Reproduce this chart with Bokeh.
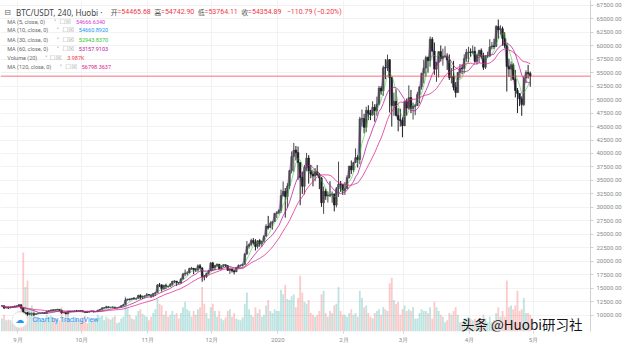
import pandas as pd
from bokeh.plotting import figure
from bokeh.models import ColumnDataSource, Range1d, FixedTicker, NumeralTickFormatter, Span, Label
from bokeh.embed import file_html
from bokeh.resources import INLINE

# ---------------- data (daily candles) ----------------
first_day = "2020-08-24"
first_open = 11650.0

close = [
    11760, 11330, 11460, 11320, 11530, 11480, 11700, 11650,
    11920, 11390, 10170, 10470, 10170, 10250, 10370, 10130, 10230, 10340, 10390, 10440, 10330, 10680, 10790,
    10950, 10940, 10930, 11080, 10920, 10420, 10530, 10240, 10740, 10690, 10730, 10780, 10700, 10840, 10780,
    10620, 10570, 10550, 10670, 10790, 10600, 10670, 10920, 11060, 11300, 11380, 11540, 11430, 11430, 11500,
    11320, 11360, 11500, 11750, 11920, 12820, 12970, 12930, 13120, 13030, 13070, 13650, 13280, 13460, 13560, 13800,
    13760, 13550, 14030, 14150, 15590, 15580, 14840, 15480, 15330, 15300, 15700, 16280, 16320, 16070, 15960,
    16720, 17650, 17790, 17820, 18660, 18700, 18420, 18370, 19160, 18740, 17150, 17140, 17720, 18180, 19700,
    18770, 19220, 19430, 18650, 19150, 19360, 19170, 18320, 18550, 18250, 18030, 18800, 19170, 19270, 19430,
    21340, 22800, 23130, 23860, 23480, 22740, 23820, 23240, 23730, 24690, 26490, 26280, 27040, 27360, 28880, 28990,
    29410, 32190, 33000, 31990, 33990, 36820, 39450, 40630, 40180, 38340, 35540, 33920, 37390, 39160, 36820,
    36180, 35800, 36630, 36020, 35470, 30850, 33000, 32100, 32290, 32260, 32500, 30430, 33470, 34320, 34300, 33110,
    33520, 35520, 37680, 36980, 38310, 39260, 38900, 46400, 46500, 44850, 48010, 47430, 47180, 48590,
    47910, 49150, 52140, 51590, 55930, 55850, 57410, 54090, 48890, 49680, 47070, 46280, 46110, 45140,
    49590, 48420, 50370, 48360, 48750, 48880, 50970, 52380, 54880, 55850, 57800, 57230, 61190, 59000, 55650,
    56900, 58910, 57650, 58030, 58100, 57350, 54080, 54340, 52300, 51300, 55030, 55840, 55780, 57620, 58780, 58800,
    58720, 58970, 57070, 58200, 59130, 58020, 56000, 58090, 58090, 59770, 59970, 59860, 63580, 62960, 63150,
    61340, 60000, 56150, 55660, 56470, 53800, 51700, 51150, 50110, 49070, 54030, 55040, 54860, 54354.89,
]
high = [
    11800, 11780, 11540, 11590, 11550, 11580, 11720, 11770,
    12070, 11950, 11460, 10630, 10570, 10350, 10410, 10440, 10350, 10490, 10400, 10480, 10450, 10800, 10940,
    11000, 11030, 11040, 11180, 11080, 10990, 10580, 10540, 10780, 10760, 10790, 10800, 10960, 10860, 10850,
    10950, 10660, 10600, 10700, 10800, 10800, 10690, 10950, 11110, 11490, 11440, 11730, 11560, 11550, 11630,
    11540, 11400, 11530, 11800, 12030, 13220, 13020, 13030, 13160, 13350, 13250, 13800, 13860, 13640, 13660, 14100,
    13900, 13830, 14070, 14250, 15750, 15970, 15770, 15660, 15840, 15470, 15960, 16350, 16480, 16330, 16150,
    16880, 17850, 18470, 18140, 18800, 18950, 18680, 18760, 19410, 19480, 18910, 17450, 17850, 18350, 19860,
    19890, 19300, 19600, 19510, 19170, 19420, 19390, 19300, 18640, 18560, 18280, 18950, 19410, 19350, 19560,
    21540, 23770, 23280, 24170, 24300, 24100, 23850, 24100, 23780, 24790, 26870, 28420, 27410, 27400, 28990, 29300,
    29650, 33300, 34800, 33600, 34500, 36950, 40380, 41950, 41400, 41300, 38250, 36650, 37850, 40100, 39700,
    37900, 36850, 37300, 37850, 36400, 35600, 33850, 33450, 32950, 34850, 32950, 32550, 33780, 38500, 34900, 34300,
    34700, 35950, 37700, 38700, 38400, 40950, 39700, 46800, 48150, 47350, 48680, 48950, 48100, 49700,
    49150, 50550, 52550, 52500, 56300, 57500, 58350, 57500, 54200, 51300, 51900, 48400, 48300, 46700,
    49800, 50200, 52650, 51800, 49450, 49200, 51450, 52400, 54900, 57400, 58150, 58000, 61700, 61600, 60600,
    56950, 58950, 60050, 59450, 59900, 58600, 58400, 55850, 57200, 53250, 55100, 56600, 56550, 58400, 59400, 59800,
    59500, 60050, 59800, 58500, 59250, 59500, 58700, 58200, 58900, 61200, 60700, 61300, 63800, 64850, 63800,
    63550, 62500, 60400, 57600, 57100, 56750, 55500, 52150, 51200, 50600, 54350, 55450, 56450, 55200,
]
low = [
    11600, 11120, 11260, 11150, 11280, 11440, 11460, 11560,
    11570, 11160, 10000, 9960, 9880, 10000, 9880, 9850, 10100, 10210, 10200, 10310, 10230, 10300, 10640,
    10670, 10750, 10820, 10900, 10770, 10280, 10360, 10150, 10200, 10560, 10650, 10630, 10660, 10650, 10690,
    10540, 10380, 10500, 10540, 10640, 10530, 10570, 10540, 10840, 11060, 11260, 11220, 11300, 11280, 11280,
    11220, 11300, 11340, 11420, 11680, 11900, 12690, 12720, 12890, 12900, 12780, 13050, 12930, 12990, 13130, 13420,
    13640, 13200, 13300, 13530, 14090, 15210, 14350, 14720, 14810, 15090, 15270, 15460, 15950, 15430, 15800,
    15870, 16550, 17220, 17350, 17770, 18400, 17620, 18000, 18050, 18520, 16200, 16450, 16880, 17520, 18180,
    18180, 18330, 18920, 18580, 18510, 18860, 18900, 18200, 17650, 17910, 17570, 18020, 18720, 19010, 19050,
    19280, 21230, 22350, 22750, 23070, 22000, 22350, 22700, 22720, 23440, 24510, 25900, 26120, 25880, 27340, 28000,
    28700, 28950, 32000, 28100, 29900, 33400, 36300, 36600, 38700, 35100, 30400, 32500, 32400, 36700, 34400,
    35400, 33900, 34850, 35900, 33400, 30100, 28800, 31400, 30900, 31900, 30850, 29250, 30000, 31950, 32850, 32300,
    32300, 33400, 35350, 36200, 36600, 38200, 37400, 38000, 45000, 43750, 43950, 46200, 46200, 47000,
    45900, 47000, 48900, 50900, 50700, 53800, 55300, 47600, 45000, 47000, 46900, 44100, 45000, 43000,
    45100, 47000, 48100, 47500, 46300, 47100, 48850, 49300, 51850, 53000, 54300, 55000, 56100, 58900, 54600,
    53300, 54100, 57050, 56300, 57800, 55500, 53650, 53000, 51700, 50400, 51250, 53950, 54700, 54900, 57000, 56900,
    57950, 58500, 56900, 56500, 56800, 57600, 55500, 55700, 57700, 57900, 59300, 59400, 59800, 61300, 62050,
    60000, 59600, 51500, 54200, 53500, 53600, 50400, 47500, 48800, 47000, 48800, 53050, 53900, 52400,
]
volume = [
    14, 18, 12, 13, 12, 9, 10, 11,
    22, 30, 85, 48, 55, 25, 28, 24, 16, 15, 13, 11, 12, 18, 16, 17, 15, 14, 13, 12, 26, 14, 18, 20, 13, 10, 11, 14, 12, 13,
    15, 17, 9, 10, 12, 14, 12, 18, 16, 17, 12, 16, 14, 13, 15, 17, 9, 10, 14, 16, 38, 25, 18, 14, 13, 17, 22, 24, 19, 17, 16,
    12, 16, 20, 24, 35, 30, 28, 18, 22, 16, 18, 22, 18, 20, 14, 20, 26, 32, 24, 22, 16, 22, 18, 24, 26, 48, 30, 20, 14, 26,
    30, 22, 16, 22, 14, 12, 15, 22, 24, 16, 20, 14, 13, 12, 15, 30, 42, 24, 18, 16, 26, 20, 24, 16, 18, 28, 34, 22, 20, 24, 22,
    22, 45, 40, 50, 35, 34, 38, 40, 26, 36, 60, 42, 32, 30, 34, 20, 18, 16, 18, 22, 40, 44, 20, 16, 22, 20, 28, 30, 48, 22, 18,
    18, 16, 20, 24, 18, 20, 16, 44, 36, 26, 28, 20, 16, 14, 20, 22, 24, 18, 26, 24, 22, 52, 58, 34, 30, 32, 18, 24,
    28, 22, 24, 22, 26, 14, 14, 20, 24, 22, 22, 20, 26, 14, 32, 26, 22, 18, 16, 10, 12, 20, 18, 22, 26, 18, 10, 10, 14, 14, 16,
    14, 12, 14, 10, 12, 12, 18, 14, 10, 16, 10, 12, 20, 26, 16, 22, 16, 55, 26, 28, 24, 28, 44, 22, 24, 36, 20, 20, 18,
]

legend_names = ["MA (5, close, 0)", "MA (10, close, 0)", "MA (30, close, 0)",
                "MA (60, close, 0)", "Volume (20)", "MA (120, close, 0)"]
legend_values = ["54666.6340", "54660.8920", "52943.8370", "53157.9103", "3.987K", "56798.3637"]
ma_periods = [5, 10, 30, 60, 120]          # in 4-hour bars

header_symbol = "BTC/USDT, 240, Huobi"
ohlc_keys = ["开", "高", "低", "收"]
ohlc_vals = ["=54465.68", "=54742.90", "=53764.11", "=54354.89"]
change_text = "\u2212110.79 (\u22120.20%)"
last_price = 54354.89
watermark = "头条 @Huobi研习社"

month_dates = ["2020-09-01", "2020-10-01", "2020-11-01", "2020-12-01", "2021-01-01",
               "2021-02-01", "2021-03-01", "2021-04-01", "2021-05-01"]
month_labels = ["9月", "10月", "11月", "12月", "2020", "2月", "3月", "4月", "5月"]
price_ticks = [10000, 12500, 15000, 17500, 20000, 22500, 25000, 27500, 30000, 32500, 35000,
               37500, 40000, 42500, 45000, 47500, 50000, 52500, 55000, 57500, 60000, 62500,
               65000, 67500]

# ---------------- styles ----------------
MA_COLORS = ["#d63ad6", "#2196f3", "#2fc52f", "#b5179e", "#f23645", "#e0218a"]
UP_C, DOWN_C = "#4a4a4a", "#1e1e1e"
VOL_UP, VOL_DOWN = "#26a69a", "#ef5350"
RED = "#f23645"
GRID = "#f2f2f2"

origin = pd.Timestamp("2020-09-01")
dates = pd.date_range(first_day, periods=len(close), freq="D")
xs = [(d - origin).days + 0.5 for d in dates]
opens = [first_open] + close[:-1]
hi = [max(h, o, c) for h, o, c in zip(high, opens, close)]
lo = [min(l, o, c) for l, o, c in zip(low, opens, close)]
is_up = [c >= o for o, c in zip(opens, close)]

src = ColumnDataSource(dict(
    x=xs, open=opens, close=close, high=hi, low=lo, volume=volume,
    top=[max(o, c) for o, c in zip(opens, close)],
    bottom=[min(o, c) for o, c in zip(opens, close)],
    color=[UP_C if u else DOWN_C for u in is_up],
    vcolor=[VOL_UP if u else VOL_DOWN for u in is_up],
))

# reference-pixel -> data helpers (for annotations only)
def X(px):
    return (px - 18) / 2.2025

def Y(py):
    return 67500 - (py - 5) * 2500 / 14

p = figure(width=624, height=345, output_backend="svg", toolbar_location=None,
           x_range=Range1d(X(0), X(610)), y_range=Range1d(Y(344), Y(0)),
           y_axis_location="right", min_border_left=0, min_border_top=0,
           min_border_right=0, min_border_bottom=0, outline_line_color=None,
           background_fill_color="white", border_fill_color="white")

p.extra_y_ranges = {"vol": Range1d(0, max(volume) * 344 / 82)}

month_x = [(pd.Timestamp(d) - origin).days for d in month_dates]

# grid
p.xgrid.ticker = FixedTicker(ticks=month_x)
p.ygrid.ticker = FixedTicker(ticks=price_ticks)
p.xgrid.grid_line_color = GRID
p.ygrid.grid_line_color = GRID

# axes
p.xaxis.ticker = FixedTicker(ticks=month_x)
p.xaxis.major_label_overrides = {m: l for m, l in zip(month_x, month_labels)}
p.xaxis.axis_line_color = None
p.xaxis.major_tick_line_color = "#d0d0d0"
p.xaxis.major_tick_out = 2
p.xaxis.major_tick_in = 0
p.xaxis.minor_tick_line_color = None
p.xaxis.major_label_text_font = "Roboto"
p.xaxis.major_label_text_font_size = "6px"
p.xaxis.major_label_text_color = "#8a8a8a"
p.xaxis.major_label_standoff = 2

p.yaxis.ticker = FixedTicker(ticks=price_ticks)
p.yaxis.formatter = NumeralTickFormatter(format="0.00")
p.yaxis.axis_line_color = "#d0d0d0"
p.yaxis.major_tick_line_color = "#d0d0d0"
p.yaxis.major_tick_out = 3
p.yaxis.major_tick_in = 0
p.yaxis.minor_tick_line_color = None
p.yaxis.major_label_text_font = "Roboto"
p.yaxis.major_label_text_font_size = "6px"
p.yaxis.major_label_text_color = "#8a8a8a"
p.yaxis.major_label_standoff = 3

# volume
p.vbar(x="x", top="volume", bottom=0, width=0.85, source=src, y_range_name="vol",
       fill_color="vcolor", fill_alpha=0.3, line_color=None)

# moving averages (4h periods -> daily windows)
s = pd.Series(close, dtype=float)
ma_series = [s.rolling(max(1, round(n / 6)), min_periods=1).mean().tolist() for n in ma_periods]
line_colors = [MA_COLORS[0], MA_COLORS[1], MA_COLORS[2], MA_COLORS[3], MA_COLORS[5]]

for ys, c in zip(ma_series[:2], line_colors[:2]):
    p.line(xs, ys, line_color=c, line_width=1, line_alpha=0.6)

# candles
p.segment(x0="x", y0="high", x1="x", y1="low", source=src, line_color="color", line_width=1)
p.vbar(x="x", top="top", bottom="bottom", width=0.8, source=src,
       fill_color="color", line_color="color", line_width=0.5)

for ys, c, a in zip(ma_series[2:], line_colors[2:], [0.55, 0.75, 0.75]):
    p.line(xs, ys, line_color=c, line_width=1, line_alpha=a)

# last price line + tag
p.add_layout(Span(location=last_price, dimension="width", line_color=RED, line_width=1, line_alpha=0.7))
p.add_layout(Label(x=X(611), y=last_price, text=f"{last_price:.2f}", text_color="white",
                   text_font="Roboto", text_font_size="6.5px", text_baseline="middle",
                   background_fill_color=RED, padding=2))

# header
def lab(px, py, text, color="#555555", size="6px", font="Roboto", baseline="middle", **kw):
    p.add_layout(Label(x=X(px), y=Y(py), text=text, text_color=color, text_font=font,
                       text_font_size=size, text_baseline=baseline, text_align="left", **kw))

lab(4, 12, "\u229f", color="#666666", size="8px", font="DejaVu Sans")
lab(16, 12, header_symbol + "  \u00b7", color="#444444", size="8px", font="Noto Sans")
for k, (key, val) in enumerate(zip(ohlc_keys, ohlc_vals)):
    lab(114 + 45 * k, 12, key, color="#555555", size="7px", font="Noto Sans CJK SC")
    lab(121 + 45 * k, 12, val, color=RED, size="7px", font="Roboto")
lab(296, 12, change_text, color=RED, size="7px", font="Roboto")

rows_y = [22, 31, 41, 50, 60, 69]
caret_x = [55, 58, 58, 58, 46, 61]
icon_x = [61, 64, 64, 64, 51, 67]
value_x = [78, 81, 81, 81, 69, 84]
for i, (name, val) in enumerate(zip(legend_names, legend_values)):
    lab(7, rows_y[i], name, color="#6a6a6a", size="5.5px")
    lab(caret_x[i], rows_y[i], "\u02c5", color="#9a9a9a", size="5.5px", font="DejaVu Sans")
    lab(icon_x[i], rows_y[i], "\u2610\u2612", color="#b0b0b0", size="6.5px", font="DejaVu Sans")
    lab(value_x[i], rows_y[i], val, color=MA_COLORS[i], size="5.5px")

# TradingView badge
p.add_layout(Label(x=X(20), y=Y(332), text="\u2601", text_color="#2196f3", text_font="DejaVu Sans",
                   text_font_size="9px", text_align="center", text_baseline="middle",
                   background_fill_color="white", border_line_color="#e6e6e6",
                   border_radius=8, padding=3))
lab(33, 332, "Chart by TradingView", color="#2196f3", size="7px")

# watermark
lab(476, 336, watermark, color="#151515", size="13.5px", font="Noto Sans CJK SC",
    level="overlay")

open("out.html", "w").write(file_html(p, INLINE))
